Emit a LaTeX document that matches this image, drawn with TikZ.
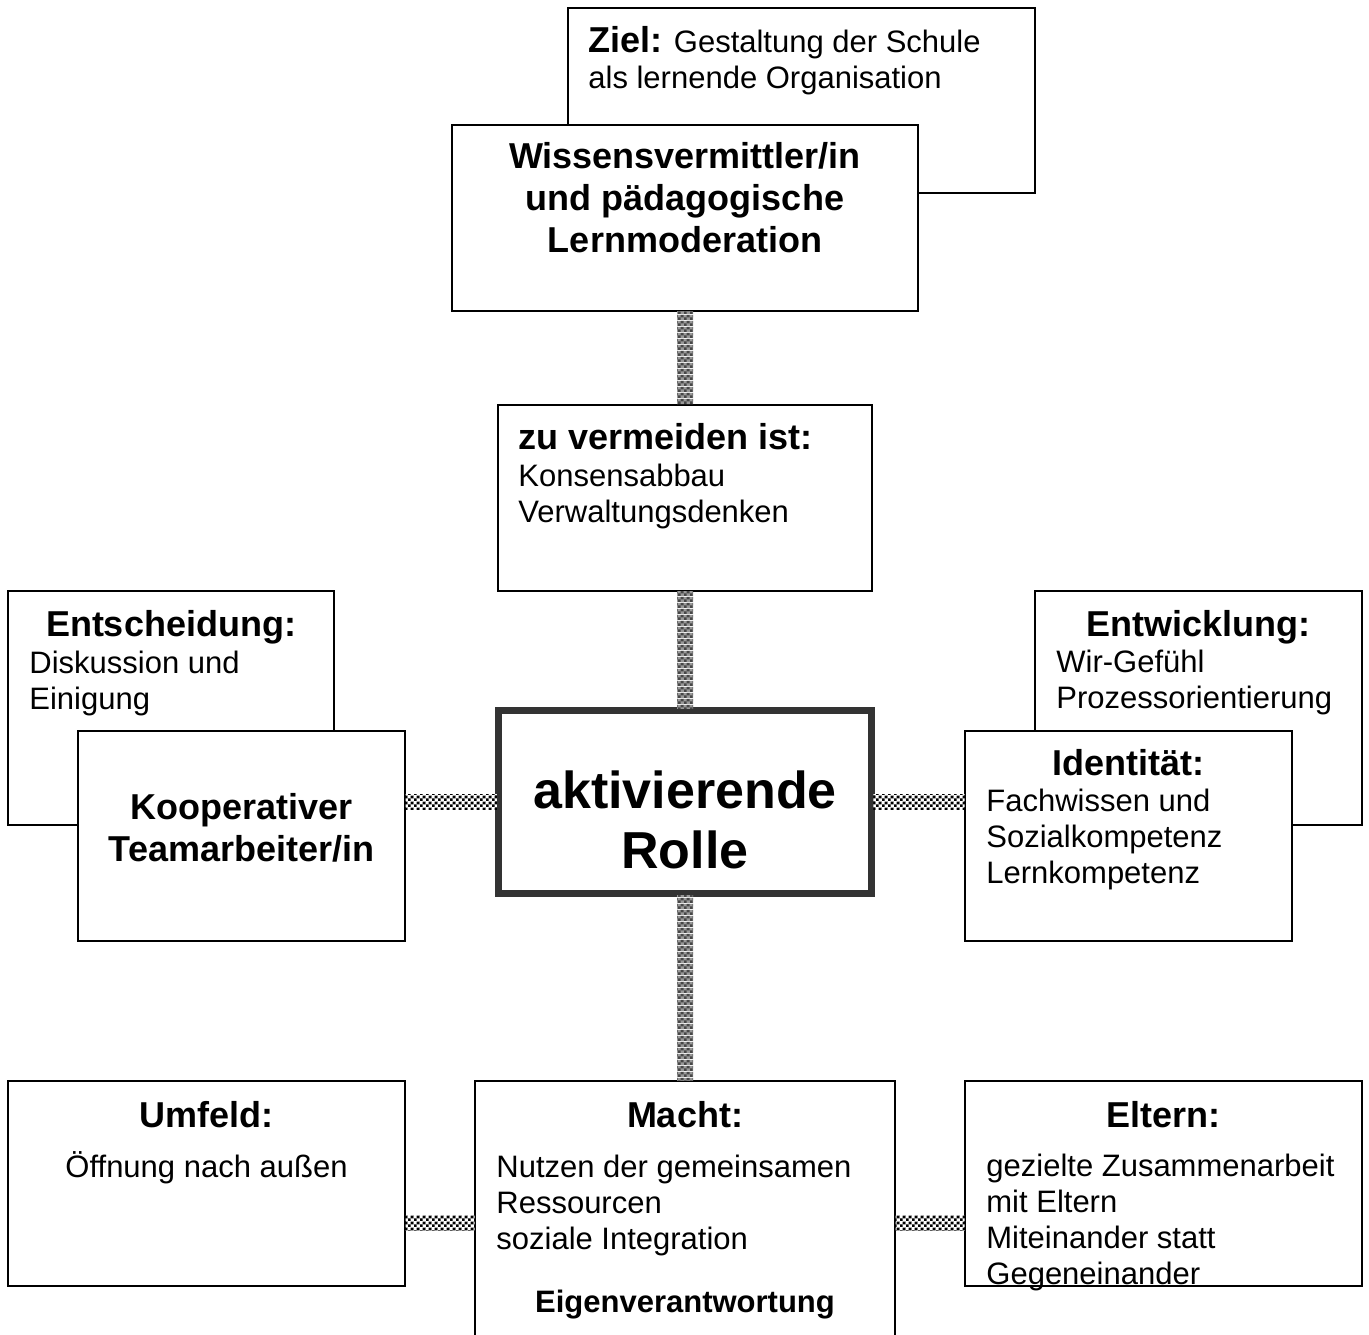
\documentclass[tikz,border=0pt]{standalone}
\usepackage{fontspec}
\setmainfont{Liberation Sans}
\usetikzlibrary{calc,patterns.meta}
\definecolor{frame}{HTML}{333333}
\tikzdeclarepattern{
  name=chkbw,
  type=colored,
  bottom left={(0pt,0pt)},
  top right={(3pt,3pt)},
  tile size={(3pt,3pt)},
  code={
    \fill[white] (0pt,0pt) rectangle (3pt,3pt);
    \fill[black] (0pt,0pt) rectangle (1.5pt,1.5pt);
    \fill[black] (1.5pt,1.5pt) rectangle (3pt,3pt);
  }
}
\tikzdeclarepattern{
  name=chkgray,
  type=colored,
  bottom left={(0pt,0pt)},
  top right={(3pt,3pt)},
  tile size={(3pt,3pt)},
  code={
    \fill[black!40] (0pt,0pt) rectangle (3pt,3pt);
    \fill[black!72] (0pt,0pt) rectangle (1.5pt,1.5pt);
    \fill[black!72] (1.5pt,1.5pt) rectangle (3pt,3pt);
  }
}
\begin{document}
\begin{tikzpicture}[x=0.5pt,y=-0.5pt,
  box/.style={draw=black, line width=1pt, fill=white, rectangle, inner sep=0pt, outer sep=0pt},
  centbox/.style={draw=frame, line width=3.5pt, fill=white, rectangle, inner sep=0pt, outer sep=0pt},
  hd/.style={font=\fontsize{18}{21}\selectfont\bfseries, inner sep=0pt, anchor=base, align=center},
  hdl/.style={font=\fontsize{18}{21}\selectfont\bfseries, inner sep=0pt, anchor=base west, align=left},
  tx/.style={font=\fontsize{15.5}{18}\selectfont, inner sep=0pt, anchor=base west, align=left},
  txc/.style={font=\fontsize{15.5}{18}\selectfont, inner sep=0pt, anchor=base, align=center},
  big/.style={font=\fontsize{26}{30}\selectfont\bfseries, inner sep=0pt, anchor=base, align=center},
  vconn/.style={pattern=chkgray},
  hconn/.style={pattern=chkbw}
]
\useasboundingbox (0,0) rectangle (1369,1334);
\clip (0,0) rectangle (1369,1334);

% background boxes
\node[box, minimum width=233.5pt, minimum height=92.5pt] (ziel) at (801.5,100.5) {};
\node[box, minimum width=163pt, minimum height=117pt] (entsch) at (171,708) {};
\node[box, minimum width=163.5pt, minimum height=117pt] (entw) at (1198.5,708) {};

% front boxes
\node[box, minimum width=233pt, minimum height=93pt] (wissen) at (685,218) {};
\node[box, minimum width=187pt, minimum height=93pt] (verm) at (685,498) {};
\node[centbox, minimum width=186.5pt, minimum height=91.5pt] (cent) at (685,802) {};
\node[box, minimum width=163.5pt, minimum height=105pt] (koop) at (241.5,836) {};
\node[box, minimum width=163.5pt, minimum height=105pt] (ident) at (1128.5,836) {};
\node[box, minimum width=198.5pt, minimum height=102.5pt] (umf) at (206.5,1183.5) {};
\node[box, minimum width=210pt, minimum height=134.5pt] (macht) at (685,1215.5) {};
\node[box, minimum width=198.5pt, minimum height=102.5pt] (elt) at (1163.5,1183.5) {};

% connectors
\fill[vconn] ($(wissen.south)+(-8,0.5)$) rectangle ($(verm.north)+(8,-0.5)$);
\fill[vconn] ($(verm.south)+(-8,0.5)$) rectangle ($(cent.north)+(8,-1.75)$);
\fill[vconn] ($(cent.south)+(-8,1.75)$) rectangle ($(macht.north)+(8,-0.5)$);
\fill[hconn] ($(koop.east |- cent.west)+(0.5,-7.5)$) rectangle ($(cent.west)+(-1.75,7.5)$);
\fill[hconn] ($(cent.east)+(1.75,-7.5)$) rectangle ($(ident.west |- cent.east)+(-0.5,7.5)$);
\fill[hconn] ($(umf.east)+(0.5,32)$) rectangle ($(macht.west |- umf.east)+(-0.5,47)$);
\fill[hconn] ($(macht.east |- elt.west)+(0.5,32)$) rectangle ($(elt.west)+(-0.5,47)$);

% texts (multi-line nodes: base anchor = baseline of last line)
\node[tx] (zielt) at (588,88.5) {{\fontsize{18}{21}\selectfont\bfseries Ziel:} Gestaltung der Schule\\als lernende Organisation};
\node[hd] (wissent) at (685,252) {Wissensvermittler/in\\und pädagogische\\Lernmoderation};
\node[hdl] (vermh) at (518,449) {zu vermeiden ist:};
\node[tx] (vermb) at (518,522) {Konsensabbau\\Verwaltungsdenken};
\node[hd] (entschh) at (171,636) {Entscheidung:};
\node[tx] (entschb) at (29,709) {Diskussion und\\Einigung};
\node[hd] (koopt) at (241.5,861) {Kooperativer\\Teamarbeiter/in};
\node[big] (centt) at (685,868) {aktivierende\\Rolle};
\node[hd] (entwh) at (1198.5,636) {Entwicklung:};
\node[tx] (entwb) at (1056,708) {Wir-Gefühl\\Prozessorientierung};
\node[hd] (identh) at (1128.5,775) {Identität:};
\node[tx] (identb) at (986,883) {Fachwissen und\\Sozialkompetenz\\Lernkompetenz};
\node[hd] (umfh) at (206.5,1127) {Umfeld:};
\node[txc] (umfb) at (206.5,1177) {Öffnung nach außen};
\node[hd] (machth) at (685,1127) {Macht:};
\node[tx] (machtb) at (496,1249) {Nutzen der gemeinsamen\\Ressourcen\\soziale Integration};
\node[txc, font=\fontsize{15.5}{18}\selectfont\bfseries] (eigen) at (685,1312) {Eigenverantwortung};
\node[hd] (elth) at (1163.5,1127) {Eltern:};
\node[tx] (eltb) at (986,1284) {gezielte Zusammenarbeit\\mit Eltern\\Miteinander statt\\Gegeneinander};
\end{tikzpicture}
\end{document}
